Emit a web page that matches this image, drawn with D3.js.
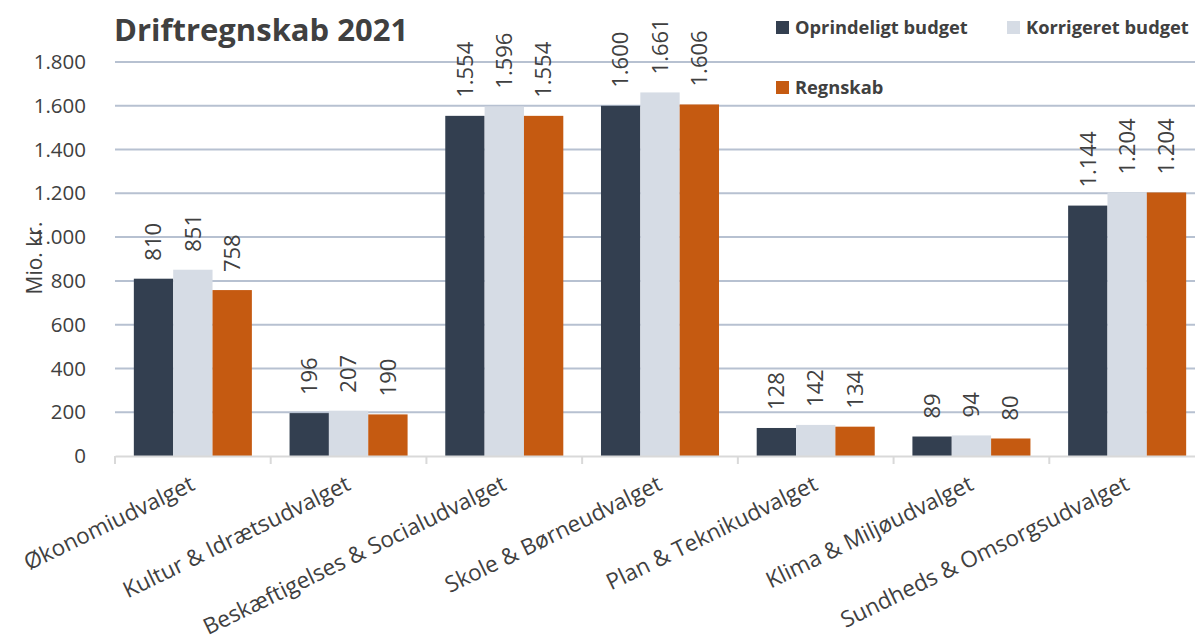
<!DOCTYPE html>
<html>
<head>
<meta charset="utf-8">
<script src="https://cdn.jsdelivr.net/npm/d3@7"></script>
<style>
  body { margin: 0; background: #fff; }
  svg { display: block; font-family: "Open Sans", sans-serif; }
</style>
</head>
<body>
<div id="chart"></div>
<script>
// data
var categories = ["Økonomiudvalget", "Kultur & Idrætsudvalget", "Beskæftigelses & Socialudvalget",
    "Skole & Børneudvalget", "Plan & Teknikudvalget", "Klima & Miljøudvalget", "Sundheds & Omsorgsudvalget"];
var seriesNames = ["Oprindeligt budget", "Korrigeret budget", "Regnskab"];
var oprindeligt = [810, 196, 1554, 1600, 128, 89, 1144];
var korrigeret = [851, 207, 1596, 1661, 142, 94, 1204];
var regnskab = [758, 190, 1554, 1606, 134, 80, 1204];
var yTicks = [0, 200, 400, 600, 800, 1000, 1200, 1400, 1600, 1800];
var colors = ["#333f50", "#d6dce5", "#c55a11"];

var W = 1195, H = 641;
var svg = d3.select("#chart").append("svg").attr("width", W).attr("height", H);

var dk = d3.formatLocale({decimal: ",", thousands: ".", grouping: [3], currency: ["", ""]});
var fmt = dk.format(",d");

var x = d3.scaleBand().domain(categories).range([115, 1205]).paddingInner(0.242).paddingOuter(0.121);
var xs = d3.scaleBand().domain(seriesNames).range([0, x.bandwidth()]);
var y = d3.scaleLinear().domain([0, 1800]).range([456, 62]);

// gridlines
svg.append("g").selectAll("line").data(yTicks.slice(1)).enter().append("line")
    .attr("x1", 115).attr("x2", 1205)
    .attr("y1", function(d){ return y(d); }).attr("y2", function(d){ return y(d); })
    .attr("stroke", "#b7c1d1").attr("stroke-width", 2);

// y axis labels
var yAxis = d3.axisLeft(y).tickValues(yTicks).tickFormat(fmt).tickSize(0).tickPadding(0);
var gy = svg.append("g").attr("transform", "translate(86,0)").call(yAxis);
gy.select(".domain").remove();
gy.selectAll("text").attr("font-size", 20.5).attr("fill", "#404040").attr("font-family", "Open Sans");

svg.append("text").attr("transform", "translate(42,258) rotate(-90)")
    .attr("text-anchor", "middle").attr("font-size", 21).attr("fill", "#404040")
    .text("Mio. kr.");

// bars
var table = categories.map(function(c, i){
    return {cat: c, vals: [oprindeligt[i], korrigeret[i], regnskab[i]]};
});
var groups = svg.append("g").selectAll("g").data(table).enter().append("g")
    .attr("transform", function(d){ return "translate(" + x(d.cat) + ",0)"; });
groups.selectAll("rect").data(function(d){ return d.vals; }).enter().append("rect")
    .attr("x", function(d, i){ return xs(seriesNames[i]); })
    .attr("width", xs.bandwidth())
    .attr("y", function(d){ return y(d); })
    .attr("height", function(d){ return y(0) - y(d); })
    .attr("fill", function(d, i){ return colors[i]; });
groups.selectAll("text").data(function(d){ return d.vals; }).enter().append("text")
    .attr("transform", function(d, i){
        return "translate(" + (xs(seriesNames[i]) + xs.bandwidth() / 2) + "," + (y(d) - 18) + ") rotate(-90)";
    })
    .attr("dy", "0.35em").attr("font-size", 22).attr("fill", "#404040")
    .text(function(d){ return fmt(d); });

// x axis
var xAxis = d3.axisBottom(x).tickSize(0).tickFormat("");
var gx = svg.append("g").attr("transform", "translate(0,456)").call(xAxis);
gx.select(".domain").attr("stroke", "#d9d9d9").attr("stroke-width", 2);
var bounds = categories.map(function(c){ return x(c) - x.step() * x.paddingInner() / 2; });
gx.selectAll(".sep").data(bounds).enter().append("line").attr("class", "sep")
    .attr("x1", function(d){ return d; }).attr("x2", function(d){ return d; })
    .attr("y1", 0).attr("y2", 8).attr("stroke", "#d9d9d9").attr("stroke-width", 2);
svg.append("g").selectAll("text").data(categories).enter().append("text")
    .attr("transform", function(d){ return "translate(" + (x(d) + x.bandwidth() / 2) + ",482) rotate(-26)"; })
    .attr("text-anchor", "end").attr("dy", "0.35em")
    .attr("font-size", 22.5).attr("fill", "#404040")
    .text(function(d){ return d; });

// title
svg.append("text").attr("x", 114).attr("y", 41).attr("font-size", 31).attr("font-weight", "bold")
    .attr("fill", "#404040").text("Driftregnskab 2021");

// legend
var legendPos = [[776, 28], [1007, 28], [776, 88]];
var lg = svg.append("g").selectAll("g").data(seriesNames).enter().append("g")
    .attr("transform", function(d, i){ return "translate(" + legendPos[i][0] + "," + legendPos[i][1] + ")"; });
lg.append("rect").attr("x", 0).attr("y", -7).attr("width", 13).attr("height", 13)
    .attr("fill", function(d, i){ return colors[i]; });
lg.append("text").attr("x", 19).attr("dy", "0.35em").attr("font-size", 18.3).attr("font-weight", "bold")
    .attr("fill", "#404040").text(function(d){ return d; });
</script>
</body>
</html>
